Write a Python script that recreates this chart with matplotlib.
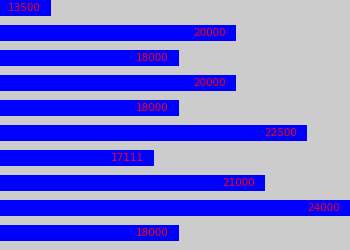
import matplotlib
matplotlib.use("Agg")
import matplotlib.pyplot as plt

values = [13500, 20000, 18000, 20000, 18000, 22500, 17111, 21000, 24000, 18000]
labels = [str(v) for v in values]

fig = plt.figure(figsize=(3.5, 2.5), dpi=100)
fig.patch.set_facecolor("#cccccc")
ax = fig.add_axes([0, 0, 1, 1])
ax.set_facecolor("#cccccc")

pos = list(range(len(values)))
ax.barh(pos, values, height=0.64, color="#0000ff", left=0)
vmax = max(values)
ax.set_xlim(11719, vmax)
ax.set_ylim(len(values) - 0.32, -0.32)

for p, v, lab in zip(pos, values, labels):
    ax.annotate(lab, xy=(v, p), xytext=(-10, 0), textcoords="offset pixels",
                ha="right", va="center", color="#ff0000", fontsize=7.5,
                family="DejaVu Sans")

ax.set_xticks([])
ax.set_yticks([])
for s in ax.spines.values():
    s.set_visible(False)

fig.savefig("out.png", dpi=100, facecolor=fig.get_facecolor())
